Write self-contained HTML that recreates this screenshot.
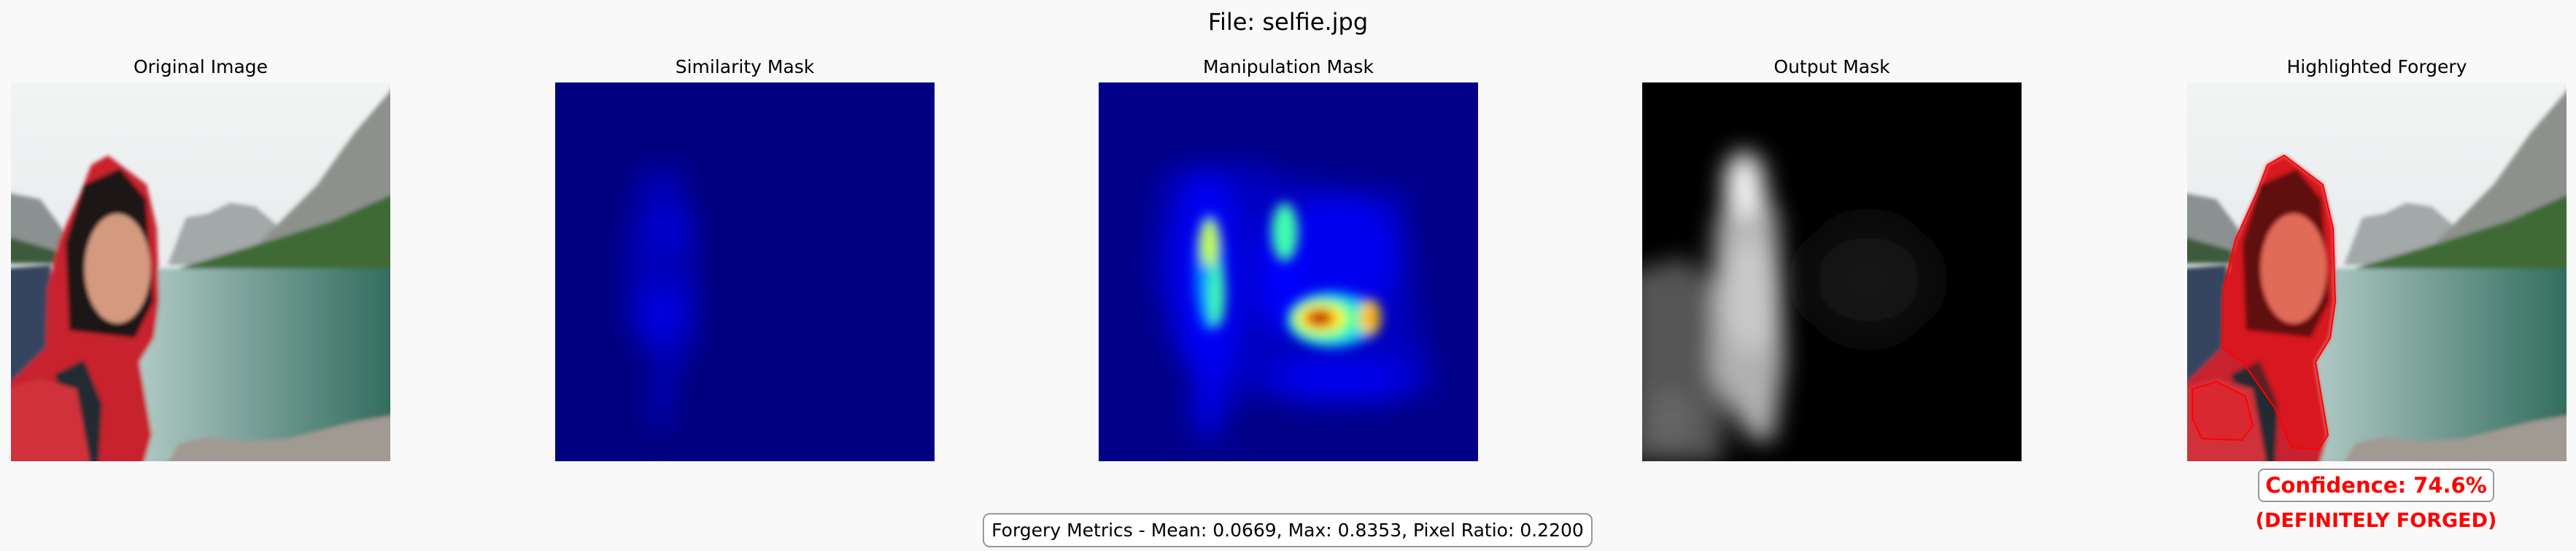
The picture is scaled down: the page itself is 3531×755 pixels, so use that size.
<!DOCTYPE html>
<html><head><meta charset="utf-8">
<style>
html,body{margin:0;padding:0;background:#f9f9f9;}
body{width:3531px;height:755px;position:relative;overflow:hidden;font-family:"DejaVu Sans","Liberation Sans",sans-serif;color:#000;}
.t{position:absolute;white-space:nowrap;}
.panel{position:absolute;top:113px;width:520px;height:519px;overflow:hidden;}
.ptitle{position:absolute;top:77px;width:520px;text-align:center;font-size:25px;}
</style></head><body>
<div class="t" style="left:0;width:3531px;text-align:center;top:11px;font-size:32px;">File: selfie.jpg</div>

<div class="ptitle" style="left:15px">Original Image</div>
<div class="ptitle" style="left:761px">Similarity Mask</div>
<div class="ptitle" style="left:1506px">Manipulation Mask</div>
<div class="ptitle" style="left:2251px">Output Mask</div>
<div class="ptitle" style="left:2998px">Highlighted Forgery</div>

<svg class="panel" id="p1" style="left:15px" viewBox="0 0 520 519"></svg>

<svg class="panel" style="left:761px" viewBox="0 0 520 519">
<defs><filter id="bs" x="-50%" y="-50%" width="200%" height="200%"><feGaussianBlur stdDeviation="18"/></filter></defs>
<rect width="520" height="519" fill="#000080"/>
<g filter="url(#bs)">
<polygon points="120,120 170,115 190,200 192,360 170,390 150,480 130,470 135,380 100,330 98,220" fill="#0000b8"/>
<ellipse cx="160" cy="200" rx="22" ry="30" fill="#0000d8"/>
<ellipse cx="140" cy="320" rx="28" ry="40" fill="#0000e0"/>
<ellipse cx="180" cy="300" rx="12" ry="40" fill="#0000d0"/>
</g></svg>

<svg class="panel" style="left:1506px" viewBox="0 0 520 519">
<defs><filter id="bm" x="-50%" y="-50%" width="200%" height="200%"><feGaussianBlur stdDeviation="18"/></filter>
<filter id="bm2" x="-50%" y="-50%" width="200%" height="200%"><feGaussianBlur stdDeviation="8"/></filter></defs>
<rect width="520" height="519" fill="#000088"/>
<g filter="url(#bm)">
<polygon points="90,120 200,110 330,150 420,150 430,300 460,420 380,440 250,420 160,440 100,360 70,250" fill="#0000c0"/>
<ellipse cx="150" cy="270" rx="45" ry="150" fill="#0000f4"/>
<ellipse cx="330" cy="240" rx="80" ry="90" fill="#0000ee"/>
<ellipse cx="330" cy="410" rx="100" ry="30" fill="#0000ee"/>
<ellipse cx="150" cy="440" rx="20" ry="50" fill="#0000f0"/>
<ellipse cx="250" cy="260" rx="30" ry="80" fill="#0000ff"/>
</g>
<g filter="url(#bm2)">
<ellipse cx="152" cy="260" rx="20" ry="80" fill="#0090ff"/>
<ellipse cx="152" cy="220" rx="13" ry="32" fill="#c0ff40"/>
<ellipse cx="162" cy="290" rx="11" ry="45" fill="#40ffb0"/>
<ellipse cx="255" cy="205" rx="18" ry="40" fill="#40ffb0"/>
<ellipse cx="320" cy="325" rx="62" ry="38" fill="#00c0ff"/>
<ellipse cx="310" cy="325" rx="48" ry="30" fill="#40ffa0"/>
<ellipse cx="305" cy="323" rx="34" ry="20" fill="#ffff00"/>
<ellipse cx="303" cy="323" rx="22" ry="13" fill="#ff2000"/>
<ellipse cx="303" cy="323" rx="13" ry="8" fill="#900000"/>
<ellipse cx="372" cy="322" rx="14" ry="25" fill="#ffe000"/>
<ellipse cx="372" cy="322" rx="6" ry="14" fill="#ff8000"/>
</g></svg>

<svg class="panel" style="left:2251px" viewBox="0 0 520 519">
<defs><filter id="bo" x="-50%" y="-50%" width="200%" height="200%"><feGaussianBlur stdDeviation="16"/></filter>
<filter id="bo2" x="-100%" y="-100%" width="300%" height="300%"><feGaussianBlur stdDeviation="30"/></filter></defs>
<rect width="520" height="519" fill="#000"/>
<g filter="url(#bo2)">
<ellipse cx="310" cy="270" rx="90" ry="80" fill="#141414"/>
</g>
<g filter="url(#bo)">
<polygon points="-20,260 60,240 120,300 110,520 -20,520" fill="#555"/>
<polygon points="136,95 185,180 195,380 180,490 150,490 95,400 100,200" fill="#b0b0b0"/>
<ellipse cx="140" cy="140" rx="28" ry="45" fill="#f4f4f4"/>
<ellipse cx="150" cy="290" rx="40" ry="80" fill="#c8c8c8"/>
<ellipse cx="40" cy="460" rx="30" ry="40" fill="#666"/>
</g></svg>

<svg class="panel" id="p5" style="left:2998px" viewBox="0 0 520 519"></svg>

<div class="t" style="left:1347px;top:703px;width:836px;height:47px;box-sizing:border-box;border:2px solid #999;border-radius:10px;background:#fff;font-size:25px;text-align:center;line-height:43px;">Forgery Metrics - Mean: 0.0669, Max: 0.8353, Pixel Ratio: 0.2200</div>

<div class="t" style="left:3095px;top:642px;width:324px;height:46px;box-sizing:border-box;border:2px solid #999;border-radius:8px;background:#fff;font-size:29px;font-weight:bold;color:#f00;text-align:center;line-height:42px;">Confidence: 74.6%</div>
<div class="t" style="left:3057px;width:400px;top:698px;font-size:27px;font-weight:bold;color:#f00;text-align:center;">(DEFINITELY FORGED)</div>

<script>
function scene(hl){
 var s='<defs><linearGradient id="sky'+hl+'" x1="0" y1="0" x2="0" y2="1"><stop offset="0" stop-color="#f2f4f4"/><stop offset="1" stop-color="#dde3e3"/></linearGradient>'+
 '<linearGradient id="lake'+hl+'" x1="0" y1="0" x2="1" y2="0"><stop offset="0.3" stop-color="#b9cfcc"/><stop offset="1" stop-color="#2f6b5c"/></linearGradient>'+
 '<filter id="sb'+hl+'"><feGaussianBlur stdDeviation="3"/></filter></defs>'+
 '<rect width="520" height="519" fill="url(#sky'+hl+')"/>'+
 '<g filter="url(#sb'+hl+')">'+
 '<polygon points="-10,150 40,160 70,200 75,245 -10,245" fill="#8a9190"/>'+
 '<polygon points="-10,210 60,230 70,248 -10,248" fill="#3d5a3e"/>'+
 '<polygon points="215,250 240,185 270,180 300,165 335,170 370,200 360,250" fill="#a3a8a8"/>'+
 '<polygon points="530,0 470,70 420,140 390,170 340,220 220,258 530,258" fill="#8d918c"/>'+
 '<polygon points="530,150 440,190 330,225 220,258 530,258" fill="#3f6a36"/>'+
 '<rect x="-10" y="255" width="540" height="274" fill="url(#lake'+hl+')"/>'+
 '<polygon points="210,529 230,495 270,485 320,492 380,488 430,475 470,465 530,455 530,529" fill="#a09a92"/>'+
 '<polygon points="-10,255 55,250 50,430 -10,430" fill="#34445e"/>'+
 '<polygon points="110,113 133,100 186,140 200,200 203,300 196,350 176,383 193,483 180,529 30,529 -10,420 48,363 50,283 66,216 96,150" fill="#c8242e"/>'+
 '<polygon points="100,140 150,118 185,160 195,300 170,350 80,340 75,220" fill="#1e1514"/>'+
 '<ellipse cx="146" cy="255" rx="45" ry="75" fill="#d49a80"/>'+
 '<polygon points="60,400 100,380 125,440 120,529 85,529 70,440" fill="#222a30"/>'+
 '<polygon points="-10,420 40,405 90,420 110,529 -10,529" fill="#d0303a"/>'+
 '</g>';
 if(hl){
  s+='<polygon points="110,113 133,100 186,140 200,200 203,300 196,350 176,383 193,483 180,503 143,500 120,446 76,383 48,363 50,283 66,216 96,150" fill="#ff0000" fill-opacity="0.3" stroke="#ff0000" stroke-width="2"/>'+
  '<polygon points="7,420 40,410 80,430 90,470 75,490 20,488 7,460" fill="#ff0000" fill-opacity="0.2" stroke="#ff0000" stroke-width="2"/>';
 }
 return s;
}
document.getElementById('p1').innerHTML=scene(0);
document.getElementById('p5').innerHTML=scene(1);
</script>
</body></html>
